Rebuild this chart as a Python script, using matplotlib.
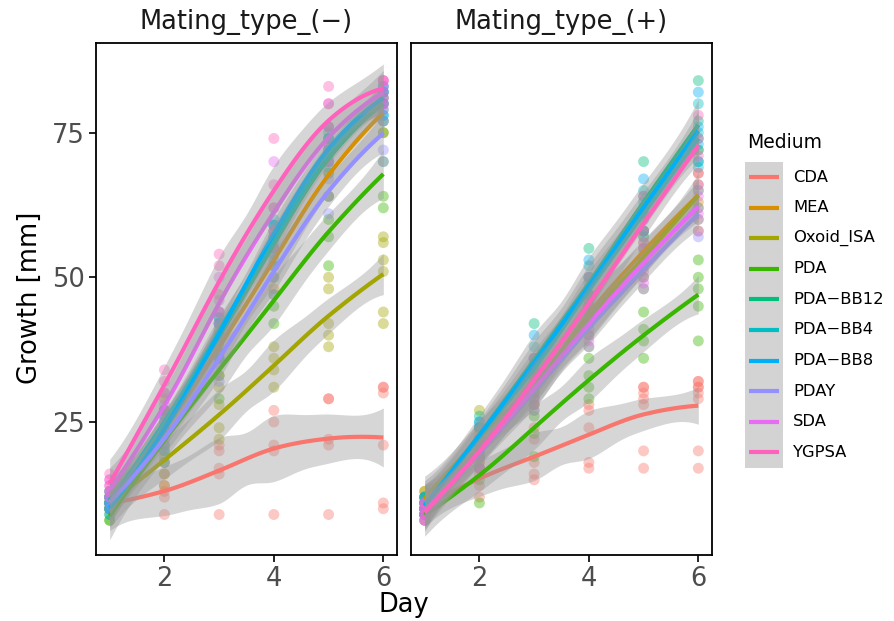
import numpy as np
import matplotlib
matplotlib.use("Agg")
import matplotlib.pyplot as plt
from matplotlib.patches import Rectangle

plt.rcParams['font.family'] = ['DejaVu Sans']

days = [1, 2, 3, 4, 5, 6]
media = ["CDA", "MEA", "Oxoid_ISA", "PDA", "PDA−BB12", "PDA−BB4",
         "PDA−BB8", "PDAY", "SDA", "YGPSA"]
colors = ["#F8766D", "#D89000", "#A3A500", "#39B600", "#00BF7D",
          "#00BFC4", "#00B0F6", "#9590FF", "#E76BF3", "#FF62BC"]
facet_titles = ["Mating_type_(−)", "Mating_type_(+)"]
x_ticks = [2, 4, 6]
y_ticks = [25, 50, 75]

# ---- Mating type (-): replicate growth per day ----
minus_CDA = [[10, 10, 11, 11, 11, 12, 12], [9, 12, 13, 14, 16], [9, 16, 17, 20, 21],
             [9, 20, 21, 25, 27], [9, 21, 22, 29, 29], [10, 11, 21, 30, 31, 31]]
minus_MEA = [[10, 11, 12, 12], [14, 24, 27, 29], [33, 37, 40, 42], [48, 52, 55, 57],
             [64, 68, 70, 72], [75, 77, 80, 81]]
minus_Oxoid = [[10, 11, 11, 12], [16, 18, 19, 21], [22, 24, 28, 31], [31, 34, 36, 38],
               [38, 40, 42, 48, 50], [42, 44, 51, 53, 56, 57]]
minus_PDA = [[8, 8, 9, 10], [18, 20, 23, 27], [29, 33, 36, 38], [42, 45, 47, 50],
             [52, 57, 60, 64], [62, 64, 70, 75]]
minus_BB12 = [[10, 11, 12, 13], [21, 24, 26, 27], [36, 39, 41, 43], [52, 55, 57, 59],
              [68, 71, 73, 74], [77, 79, 81, 82]]
minus_BB4 = [[10, 11, 12, 13], [22, 24, 25, 27], [37, 40, 42, 44], [53, 56, 58, 59],
             [69, 72, 74, 75], [78, 80, 82, 83]]
minus_BB8 = [[9, 10, 11, 11], [20, 23, 24, 26], [36, 40, 42, 43], [54, 57, 59, 60],
             [70, 72, 74, 76], [78, 80, 82, 83]]
minus_PDAY = [[10, 11, 12, 12], [18, 21, 23, 25], [32, 35, 37, 40], [47, 50, 52, 55],
              [61, 64, 67, 70], [70, 72, 77, 80]]
minus_SDA = [[12, 13, 14, 15], [23, 26, 28, 30], [42, 44, 46, 50], [55, 58, 62, 70],
             [70, 73, 76, 80], [79, 81, 83, 84]]
minus_YGPSA = [[13, 14, 15, 16], [27, 30, 32, 34], [44, 47, 52, 54], [58, 62, 66, 74],
               [72, 76, 80, 83], [80, 82, 84, 84]]

# ---- Mating type (+) ----
plus_CDA = [[9, 10, 10, 11, 11, 12], [12, 14, 16, 17, 18], [15, 16, 18, 22, 24],
            [17, 18, 24, 27, 28], [17, 20, 28, 29, 30, 31, 31],
            [17, 20, 29, 30, 31, 31, 32, 32]]
plus_MEA = [[10, 11, 12, 13], [18, 20, 21, 23], [28, 30, 32, 34], [40, 43, 45, 47],
            [50, 53, 56, 58], [60, 63, 66, 68]]
plus_Oxoid = [[10, 11, 12, 13], [20, 22, 24, 27], [27, 30, 33, 35], [38, 42, 45, 47],
              [48, 52, 55, 57], [58, 62, 65, 72]]
plus_PDA = [[8, 9, 9, 10], [11, 15, 17, 19], [19, 23, 26, 28], [29, 31, 33, 36],
            [36, 39, 41, 44], [39, 45, 48, 50, 53]]
plus_BB12 = [[9, 10, 11, 12], [19, 22, 24, 26], [31, 34, 36, 42], [44, 47, 50, 55],
             [58, 61, 64, 70], [70, 74, 77, 84]]
plus_BB4 = [[9, 10, 11, 12], [20, 22, 24, 25], [31, 33, 35, 38], [44, 46, 49, 52],
            [57, 60, 62, 65], [69, 72, 75, 80]]
plus_BB8 = [[9, 10, 11, 12], [20, 22, 24, 25], [31, 34, 36, 40], [44, 47, 50, 53],
            [58, 61, 63, 67], [70, 73, 76, 82]]
plus_PDAY = [[8, 9, 10, 11], [17, 19, 20, 22], [27, 29, 31, 34], [38, 40, 42, 45],
             [48, 50, 52, 55], [57, 60, 62, 65]]
plus_SDA = [[8, 9, 10, 11], [17, 19, 21, 22], [28, 30, 32, 33], [39, 41, 43, 45],
            [49, 51, 54, 56], [58, 61, 64, 66]]
plus_YGPSA = [[8, 9, 10, 11], [17, 19, 21, 22], [29, 31, 33, 36], [42, 44, 46, 50],
              [55, 58, 61, 64], [68, 71, 74, 78]]

minus_data = [minus_CDA, minus_MEA, minus_Oxoid, minus_PDA, minus_BB12, minus_BB4,
              minus_BB8, minus_PDAY, minus_SDA, minus_YGPSA]
plus_data = [plus_CDA, plus_MEA, plus_Oxoid, plus_PDA, plus_BB12, plus_BB4,
             plus_BB8, plus_PDAY, plus_SDA, plus_YGPSA]


def loess(x, y, grid, span=0.75):
    """Local quadratic loess, evaluated at vertices and Hermite-interpolated (like R)."""
    x = np.asarray(x, float)
    y = np.asarray(y, float)
    n = len(x)
    q = int(np.floor(n * span))

    def rows(x0):
        d = np.abs(x - x0)
        h = np.sort(d)[q - 1]
        u = np.clip(d / h, 0, 1)
        w = (1 - u ** 3) ** 3
        X = np.column_stack([np.ones(n), x - x0, (x - x0) ** 2])
        XtW = X.T * w
        M = np.linalg.pinv(XtW @ X) @ XtW
        return M[0], M[1]

    verts = np.unique(x)
    V = []
    S = []
    for v in verts:
        a, b = rows(v)
        V.append(a)
        S.append(b)
    V = np.array(V)
    S = np.array(S)

    def op(xv):
        k = np.clip(np.searchsorted(verts, xv, side='right') - 1, 0, len(verts) - 2)
        hk = verts[k + 1] - verts[k]
        t = (xv - verts[k]) / hk
        h00 = 2 * t ** 3 - 3 * t ** 2 + 1
        h10 = t ** 3 - 2 * t ** 2 + t
        h01 = -2 * t ** 3 + 3 * t ** 2
        h11 = t ** 3 - t ** 2
        return h00 * V[k] + h10 * hk * S[k] + h01 * V[k + 1] + h11 * hk * S[k + 1]

    L = np.array([op(v) for v in x])
    I = np.eye(n)
    A = (I - L).T @ (I - L)
    d1 = np.trace(A)
    d2 = np.trace(A @ A)
    resid = y - L @ y
    sigma = np.sqrt(np.sum(resid ** 2) / d1)
    df = d1 ** 2 / d2
    z = 1.959964
    t = z + (z ** 3 + z) / (4 * df) + (5 * z ** 5 + 16 * z ** 3 + 3 * z) / (96 * df ** 2)
    G = np.array([op(v) for v in grid])
    fit = G @ y
    se = sigma * np.sqrt(np.sum(G ** 2, axis=1))
    return fit, fit - t * se, fit + t * se


W, H = 894, 621
fig = plt.figure(figsize=(W / 100, H / 100), dpi=100)

panels = [(96, 397), (411, 712)]
top, bottom = 43, 555

for pi, ((l, r), data) in enumerate(zip(panels, [minus_data, plus_data])):
    ax = fig.add_axes([l / W, 1 - bottom / H, (r - l) / W, (bottom - top) / H])
    for col, reps in zip(colors, data):
        xs = np.concatenate([[d] * len(rv) for d, rv in zip(days, reps)])
        ys = np.concatenate(reps)
        ax.scatter(xs, ys, s=62, color=col, alpha=0.4, edgecolors='none', zorder=2)
    for col, reps in zip(colors, data):
        xs = np.concatenate([[d] * len(rv) for d, rv in zip(days, reps)])
        ys = np.concatenate(reps).astype(float)
        grid = np.linspace(min(days), max(days), 80)
        fit, lo, hi = loess(xs, ys, grid)
        ax.fill_between(grid, lo, hi, color='#999999', alpha=0.4, lw=0, zorder=3)
        ax.plot(grid, fit, color=col, lw=3, zorder=3, solid_capstyle='butt')
    ax.set_xlim(0.75, 6.25)
    ax.set_ylim(2, 90.5)
    ax.set_xticks(x_ticks)
    ax.set_xticklabels([str(v) for v in x_ticks])
    for s in ax.spines.values():
        s.set_linewidth(1.3)
        s.set_color('black')
    ax.tick_params(axis='both', direction='out', length=5, width=1.2, color='black',
                   labelcolor='#4D4D4D', labelsize=18.5, pad=3)
    if pi == 0:
        ax.set_yticks(y_ticks)
        ax.set_yticklabels([str(v) for v in y_ticks])
    else:
        ax.set_yticks([])
    fig.text((l + r) / 2 / W, 1 - 22 / H, facet_titles[pi], ha='center', va='center',
             fontsize=18.5, color='#1A1A1A')

fig.text(404 / W, 1 - 605 / H, "Day", ha='center', va='center', fontsize=18.5)
fig.text(30 / W, 1 - 298 / H, "Growth [mm]", rotation=90, ha='center', va='center',
         fontsize=18.5)

# legend
lax = fig.add_axes([0, 0, 1, 1], zorder=5)
lax.set_xlim(0, W)
lax.set_ylim(H, 0)
lax.axis('off')
lax.text(747, 143, "Medium", ha='left', va='center', fontsize=13.5)
row_h = 30.6
lax.add_patch(Rectangle((745, 162), 38, row_h * len(media), facecolor='#D3D3D3',
                        edgecolor='none'))
for i, (m, c) in enumerate(zip(media, colors)):
    yc = 177 + row_h * i
    lax.plot([749, 779], [yc, yc], color=c, lw=3, solid_capstyle='butt')
    lax.text(793, yc, m, ha='left', va='center', fontsize=11.8)

fig.savefig("out.png", dpi=100)
